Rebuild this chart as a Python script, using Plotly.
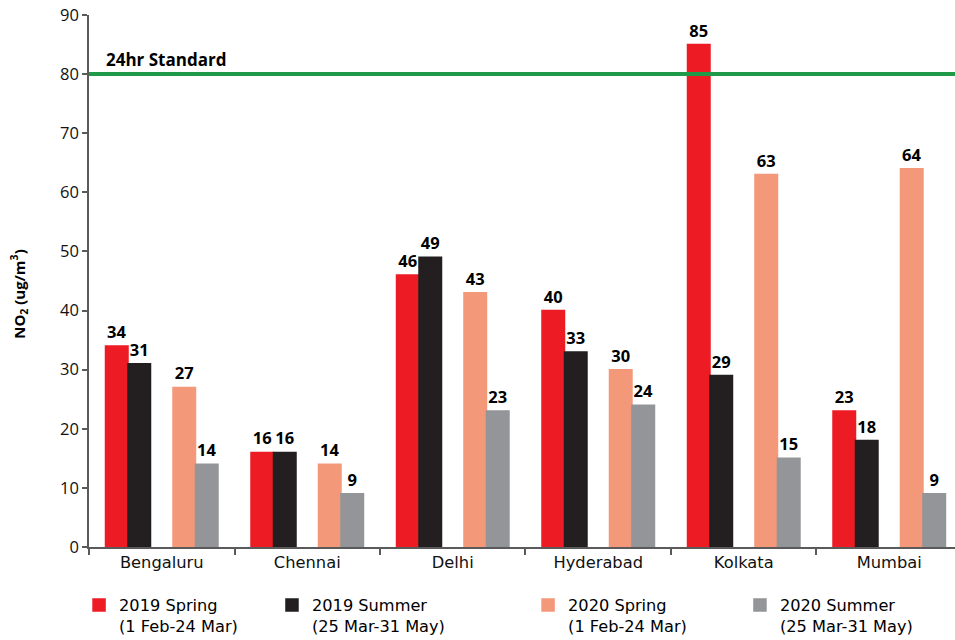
import plotly.graph_objects as go

# NO2 concentrations by city and season (ug/m3)
cities = ["Bengaluru", "Chennai", "Delhi", "Hyderabad", "Kolkata", "Mumbai"]
spring_2019 = [34, 16, 46, 40, 85, 23]
summer_2019 = [31, 16, 49, 33, 29, 18]
spring_2020 = [27, 14, 43, 30, 63, 64]
summer_2020 = [14, 9, 23, 24, 15, 9]

series_names = [
    "2019 Spring<br>(1 Feb-24 Mar)",
    "2019 Summer<br>(25 Mar-31 May)",
    "2020 Spring<br>(1 Feb-24 Mar)",
    "2020 Summer<br>(25 Mar-31 May)",
]
series_values = [spring_2019, summer_2019, spring_2020, summer_2020]
colors = ["#ED1C24", "#231F20", "#F4987A", "#939598"]

standard_value = 80
standard_label = "24hr Standard"

NUM_FONT = "Open Sans"
TXT_FONT = "DejaVu Sans"
W = 0.1546                      # bar width in category units
slot_offsets = [-2.5, -1.5, 0.5, 1.5]   # empty slot between 2019 and 2020 pairs
legend_ids = ["legend", "legend2", "legend3", "legend4"]
legend_x = [-0.0115, 0.2113, 0.507, 0.7517]

fig = go.Figure()
for name, vals, col, off, lid in zip(series_names, series_values, colors,
                                     slot_offsets, legend_ids):
    fig.add_trace(go.Bar(
        x=cities, y=vals, name=name,
        marker=dict(color=col, line=dict(width=1.5, color=col)),
        width=W, offset=off * W,
        text=[str(v) for v in vals], textposition="outside",
        textfont=dict(family=NUM_FONT, size=16.5, color="#000000", weight="bold"),
        cliponaxis=False,
        legend=lid,
    ))

# 24-hour standard line
fig.add_shape(type="line", xref="paper", yref="y", x0=0, x1=1,
              y0=standard_value, y1=standard_value,
              line=dict(color="#1E9A48", width=4), layer="above")
fig.add_annotation(xref="paper", yref="y", x=0.0173, y=standard_value,
                   xanchor="left", yanchor="bottom", yshift=1,
                   text=standard_label, showarrow=False,
                   font=dict(family=NUM_FONT, size=17, color="#000000", weight="bold"))

# y-axis title with subscript/superscript
fig.add_annotation(xref="paper", yref="paper", x=-0.0808, y=0.476,
                   xanchor="center", yanchor="middle", textangle=-90,
                   text="NO<sub>2</sub> (ug/m<sup>3</sup>)", showarrow=False,
                   font=dict(family=NUM_FONT, size=15, color="#000000", weight="bold"))

legend_common = dict(orientation="h", yanchor="top", y=-0.077, xanchor="left",
                     valign="top", itemwidth=30, bgcolor="rgba(0,0,0,0)",
                     font=dict(family=TXT_FONT, size=16.2, color="#000000"),
                     tracegroupgap=0)
layout_legends = {}
for lid, lx in zip(legend_ids, legend_x):
    layout_legends[lid] = dict(legend_common, x=lx)

fig.update_layout(
    width=955, height=640,
    margin=dict(l=89, r=0, t=15, b=93, autoexpand=False),
    paper_bgcolor="white", plot_bgcolor="white",
    barmode="overlay",
    showlegend=True,
    font=dict(family=TXT_FONT, size=16, color="#000000"),
    xaxis=dict(type="category", range=[-0.5, 5.452], showgrid=False,
               showline=True, linecolor="#5a5a5a", linewidth=1.5,
               ticks="outside", tickson="boundaries", ticklen=6,
               tickcolor="#5a5a5a", tickwidth=1.5,
               tickfont=dict(family=TXT_FONT, size=16.3, color="#111111")),
    yaxis=dict(range=[0, 90], dtick=10, showgrid=False, zeroline=False,
               showline=True, linecolor="#5a5a5a", linewidth=1.5,
               ticks="outside", ticklen=5, tickcolor="#5a5a5a", tickwidth=1.5,
               tickfont=dict(family=NUM_FONT, size=16.5, color="#111111")),
    **layout_legends,
)

fig.write_html("out.html")
